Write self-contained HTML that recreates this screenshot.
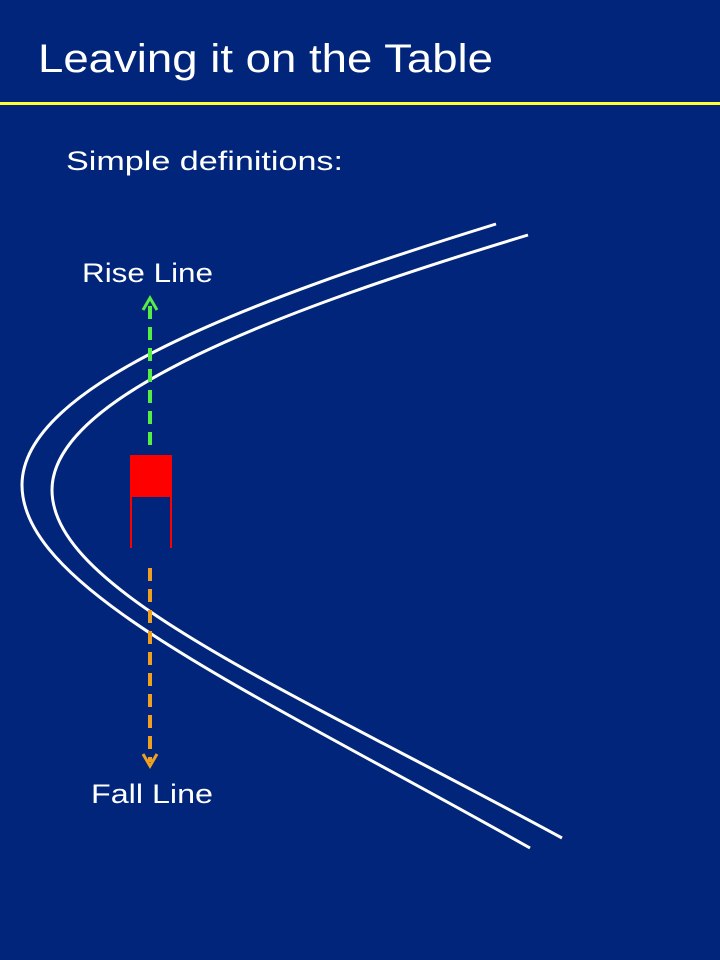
<!DOCTYPE html>
<html><head><meta charset="utf-8"><style>
html,body{margin:0;padding:0;background:#00257a;}
svg{display:block}
text{font-family:"Liberation Sans",sans-serif;fill:#fff}
</style></head><body>
<svg width="720" height="960" viewBox="0 0 720 960">
<rect width="720" height="960" fill="#00257a"/>
<text x="38" y="72" font-size="40" textLength="455" lengthAdjust="spacingAndGlyphs">Leaving it on the Table</text>
<rect x="0" y="102" width="720" height="3" fill="#ffff33"/>
<text x="66" y="170" font-size="27" textLength="277" lengthAdjust="spacingAndGlyphs">Simple definitions:</text>
<path d="M496,224 C250,300 22,385 22,485 C22,590 250,690 530,848" fill="none" stroke="#fff" stroke-width="3"/>
<path d="M528,235 C280,310 52,395 52,490 C52,590 280,685 562,838" fill="none" stroke="#fff" stroke-width="3"/>
<line x1="150" y1="445" x2="150" y2="300" stroke="#55ee44" stroke-width="4" stroke-dasharray="13,8"/>
<polyline points="143,310 150,298 157,310" fill="none" stroke="#55ee44" stroke-width="3"/>
<text x="82" y="282" font-size="27" textLength="131" lengthAdjust="spacingAndGlyphs">Rise Line</text>
<rect x="130" y="455" width="42" height="42" fill="#ff0000"/>
<line x1="131" y1="497" x2="131" y2="548" stroke="#ff0000" stroke-width="2"/>
<line x1="171" y1="497" x2="171" y2="548" stroke="#ff0000" stroke-width="2"/>
<line x1="150" y1="568" x2="150" y2="762" stroke="#f0a020" stroke-width="4" stroke-dasharray="13,8"/>
<polyline points="143,754 150,766 157,754" fill="none" stroke="#f0a020" stroke-width="3"/>
<text x="91" y="803" font-size="27" textLength="122" lengthAdjust="spacingAndGlyphs">Fall Line</text>
</svg>
</body></html>
